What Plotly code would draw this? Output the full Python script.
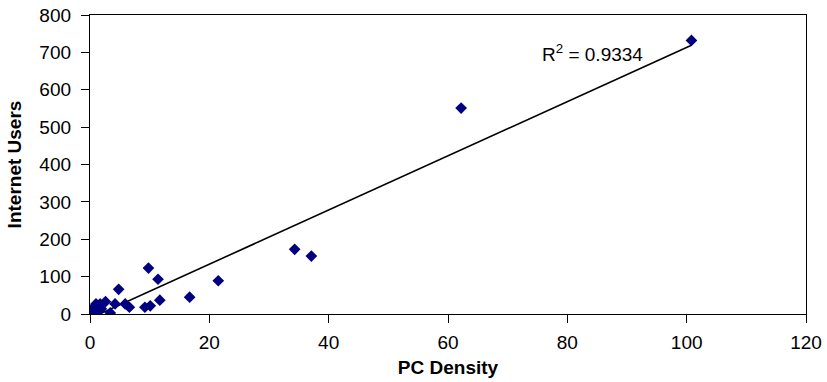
import numpy as np
import plotly.graph_objects as go

pc_density = [100.8, 62.2, 34.3, 37.1, 21.5, 16.7, 9.8, 11.4, 11.7, 4.8, 9.2, 10.1,
              6.6, 5.9, 4.2, 3.4, 2.6, 1.7, 1.0, 0.6, 0.3, 0.1, 1.1, 1.9]
internet_users = [732, 551, 173, 155, 89, 45, 123, 93, 37, 66, 18, 22,
                  18, 27, 27, 3, 33, 27, 27, 18, 9, 5, 9, 14]
r2_label = "R<sup>2</sup> = 0.9334"

x = np.array(pc_density)
y = np.array(internet_users)
slope, intercept = np.polyfit(x, y, 1)
xl = np.array([x.min(), x.max()])
yl = slope * xl + intercept

fig = go.Figure()
fig.add_trace(go.Scatter(x=xl, y=yl, mode="lines",
                         line=dict(color="black", width=1.6), hoverinfo="skip"))
fig.add_trace(go.Scatter(x=pc_density, y=internet_users, mode="markers",
                         marker=dict(symbol="diamond", size=9, color="#000080")))

fig.add_annotation(x=75.5, y=698, xref="x", yref="y", text=r2_label,
                   showarrow=False, xanchor="left", yanchor="middle",
                   font=dict(size=19, color="black"))

axis_common = dict(showline=True, linecolor="black", linewidth=1.3, mirror=True,
                   ticks="outside", ticklen=8, tickcolor="black", tickwidth=1.3,
                   showgrid=False, zeroline=False, automargin=False,
                   tickfont=dict(size=19, color="black"))

fig.update_xaxes(range=[0, 120], dtick=20, ticklabelstandoff=3, **axis_common,
                 title=dict(text="<b>PC Density</b>", font=dict(size=19, color="black"), standoff=8))
fig.update_yaxes(range=[0, 800], dtick=100, ticklabelstandoff=6, **axis_common,
                 title=dict(text="<b>Internet Users</b>", font=dict(size=19, color="black"), standoff=12))

fig.update_layout(width=827, height=382, margin=dict(l=90, r=21, t=15, b=68),
                  paper_bgcolor="white", plot_bgcolor="white", showlegend=False,
                  font=dict(family="Liberation Sans, Arial, sans-serif", color="black"))

fig.write_html("out.html", config={"displayModeBar": False},
               post_script="document.body.style.margin='0';document.body.style.padding='0';")
